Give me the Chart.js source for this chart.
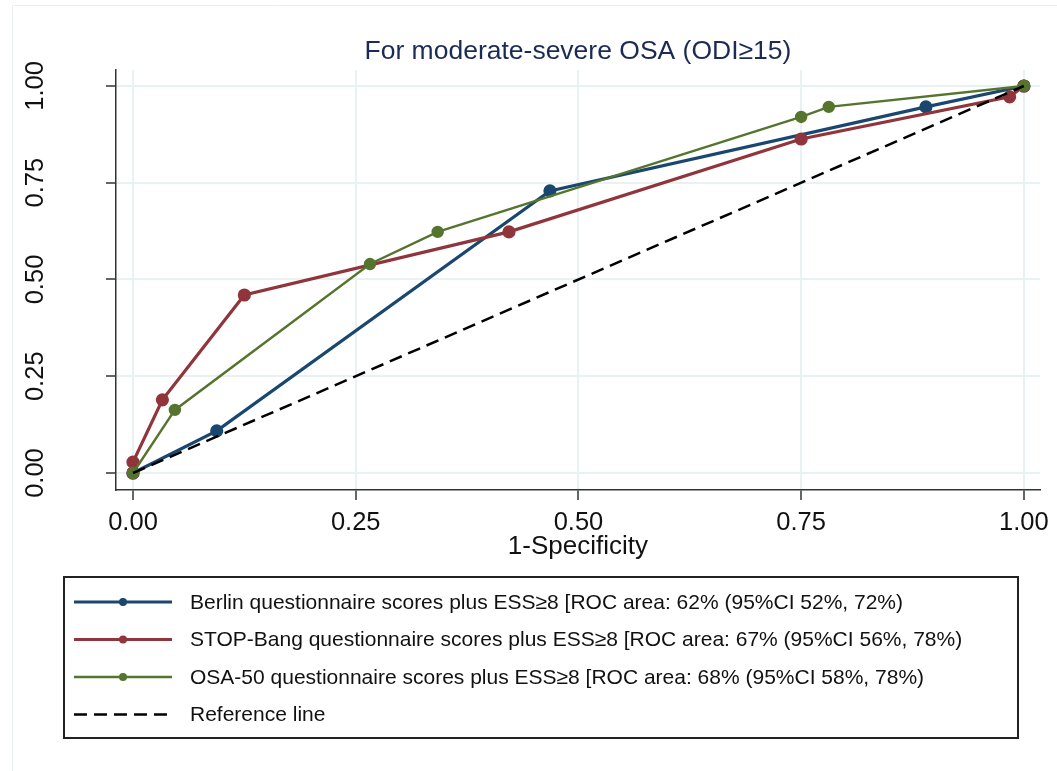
<!DOCTYPE html>
<html lang="en">
<head>
  <meta charset="UTF-8">
  <title>ROC curves - moderate-severe OSA</title>
  <script src="https://cdn.jsdelivr.net/npm/chart.js"></script>
  <style>
    html, body { margin: 0; padding: 0; background: #fff; }
    #wrap { width: 1057px; height: 771px; }
  </style>
</head>
<body>
<div id="wrap"><canvas id="roc"></canvas></div>

<script>
  // values
  const chartTitle = 'For moderate-severe OSA (ODI\u226515)';
  const xTitle = '1-Specificity';
  const tickValues = [0, 0.25, 0.5, 0.75, 1];

  const berlinX = [0, 0.094, 0.468, 0.890, 1];
  const berlinY = [0, 0.109, 0.729, 0.946, 1];

  const stopBangX = [0, 0, 0.033, 0.125, 0.422, 0.750, 0.984, 1];
  const stopBangY = [0, 0.028, 0.189, 0.460, 0.623, 0.863, 0.972, 1];

  const osa50X = [0, 0.047, 0.266, 0.342, 0.750, 0.781, 1];
  const osa50Y = [0, 0.163, 0.540, 0.623, 0.920, 0.946, 1];

  const refX = [0, 1];
  const refY = [0, 1];

  const seriesLabels = [
    'Berlin questionnaire scores plus ESS\u22658 [ROC area: 62% (95%CI 52%, 72%)',
    'STOP-Bang questionnaire scores plus ESS\u22658 [ROC area: 67% (95%CI 56%, 78%)',
    'OSA-50 questionnaire scores plus ESS\u22658 [ROC area: 68% (95%CI 58%, 78%)',
    'Reference line'
  ];

  const FONT = "'Liberation Sans', Arial, Helvetica, sans-serif";
  const pts = (xs, ys) => xs.map((x, i) => ({ x: x, y: ys[i] }));

  // title, legend box and faint frame drawn on the canvas
  const extras = {
    id: 'extras',
    afterDraw(chart) {
      const ctx = chart.ctx;
      const a = chart.chartArea;
      ctx.save();

      // faint outer frame
      ctx.strokeStyle = '#e9eff1';
      ctx.lineWidth = 1;
      ctx.beginPath();
      ctx.moveTo(12.5, 771);
      ctx.lineTo(12.5, 5.5);
      ctx.lineTo(1057, 5.5);
      ctx.stroke();

      // title
      ctx.fillStyle = '#1c2b55';
      ctx.font = '26.5px ' + FONT;
      ctx.textAlign = 'center';
      ctx.textBaseline = 'middle';
      ctx.fillText(chartTitle, (a.left + a.right) / 2, 52);

      // legend box
      ctx.strokeStyle = '#222';
      ctx.lineWidth = 2;
      ctx.strokeRect(64, 577, 954, 161);

      const sets = chart.data.datasets;
      ctx.font = '21px ' + FONT;
      ctx.textAlign = 'left';
      sets.forEach((ds, i) => {
        const y = 602 + i * 37.5;
        ctx.strokeStyle = ds.borderColor;
        ctx.lineWidth = ds.borderWidth;
        ctx.setLineDash(ds.borderDash || []);
        ctx.beginPath();
        ctx.moveTo(74, y);
        ctx.lineTo(172, y);
        ctx.stroke();
        ctx.setLineDash([]);
        if (ds.pointRadius > 0) {
          ctx.fillStyle = ds.borderColor;
          ctx.beginPath();
          ctx.arc(123, y, 4, 0, Math.PI * 2);
          ctx.fill();
        }
        ctx.fillStyle = '#111';
        ctx.fillText(ds.label, 190, y + 1);
      });
      ctx.restore();
    }
  };

  const ctx = document.getElementById('roc').getContext('2d');
  const rocChart = new Chart(ctx, {
    type: 'scatter',
    data: {
      datasets: [
        {
          label: seriesLabels[0],
          data: pts(berlinX, berlinY),
          showLine: true,
          borderColor: '#1a476f',
          backgroundColor: '#1a476f',
          borderWidth: 3.2,
          pointRadius: 5,
          pointHoverRadius: 5,
          order: 3
        },
        {
          label: seriesLabels[1],
          data: pts(stopBangX, stopBangY),
          showLine: true,
          borderColor: '#90353b',
          backgroundColor: '#90353b',
          borderWidth: 3.2,
          pointRadius: 5,
          pointHoverRadius: 5,
          order: 2
        },
        {
          label: seriesLabels[2],
          data: pts(osa50X, osa50Y),
          showLine: true,
          borderColor: '#55752f',
          backgroundColor: '#55752f',
          borderWidth: 2.4,
          pointRadius: 5,
          pointHoverRadius: 5,
          order: 1
        },
        {
          label: seriesLabels[3],
          data: pts(refX, refY),
          showLine: true,
          borderColor: '#000',
          backgroundColor: '#000',
          borderWidth: 2.5,
          borderDash: [13, 7],
          pointRadius: 0,
          order: 0
        }
      ]
    },
    options: {
      responsive: true,
      maintainAspectRatio: false,
      animation: false,
      layout: { padding: { top: 70, right: 17, left: 0, bottom: 209 } },
      plugins: {
        legend: { display: false },
        title: { display: false },
        tooltip: { enabled: false }
      },
      scales: {
        x: {
          type: 'linear',
          min: -0.01908,
          max: 1.01796,
          afterBuildTicks: (scale) => { scale.ticks = tickValues.map(v => ({ value: v })); },
          afterFit: (scale) => { scale.height = 72; },
          grid: { color: '#eaf1f3', lineWidth: 2, tickColor: '#333', tickLength: 10, tickWidth: 1.5 },
          border: { display: true, color: '#333', width: 1.5 },
          ticks: {
            color: '#111',
            font: { family: FONT, size: 25.5 },
            padding: 8,
            maxRotation: 0,
            callback: (v) => Number(v).toFixed(2)
          },
          title: {
            display: true,
            text: xTitle,
            color: '#111',
            font: { family: FONT, size: 26 },
            padding: 0
          }
        },
        y: {
          type: 'linear',
          min: -0.0439,
          max: 1.0413,
          afterBuildTicks: (scale) => { scale.ticks = tickValues.map(v => ({ value: v })); },
          afterFit: (scale) => { scale.width = 116; },
          grid: { color: '#eaf1f3', lineWidth: 2, tickColor: '#333', tickLength: 10, tickWidth: 1.5 },
          border: { display: true, color: '#333', width: 1.5 },
          ticks: {
            color: '#111',
            font: { family: FONT, size: 25.5 },
            minRotation: 90,
            maxRotation: 90,
            crossAlign: 'center',
            padding: 45,
            callback: (v) => Number(v).toFixed(2)
          }
        }
      }
    },
    plugins: [extras]
  });
</script>
</body>
</html>
